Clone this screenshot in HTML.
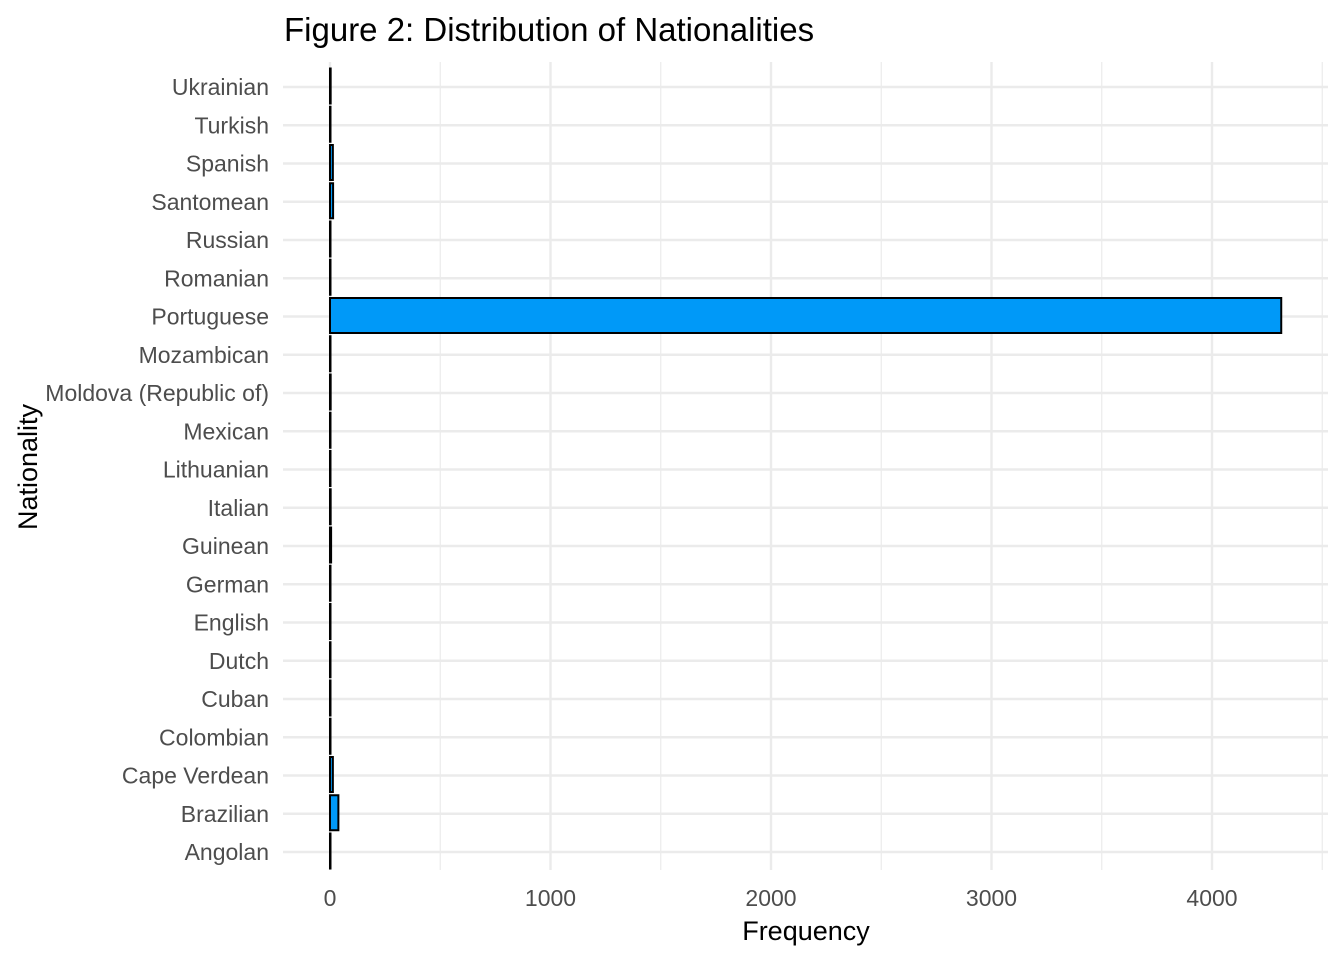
<!DOCTYPE html>
<html><head><meta charset="utf-8"><style>
body{margin:0;background:#fff;}
svg text{font-family:"Liberation Sans",Arial,sans-serif;}
</style></head><body>
<svg id="chart" width="1344" height="960" xmlns="http://www.w3.org/2000/svg">
<text x="284" y="41" font-size="33" fill="#000">Figure 2: Distribution of Nationalities</text>
<g id="grid"></g>
<g id="bars"></g>
<g id="ylabels"></g>
<g id="xlabels"></g>
<text x="806" y="940" font-size="27" text-anchor="middle" fill="#000">Frequency</text>
<text transform="translate(37,467) rotate(-90)" font-size="27" text-anchor="middle" fill="#000">Nationality</text>
</svg>
<script>
const categories=["Angolan","Brazilian","Cape Verdean","Colombian","Cuban","Dutch","English","German","Guinean","Italian","Lithuanian","Mexican","Moldova (Republic of)","Mozambican","Portuguese","Romanian","Russian","Santomean","Spanish","Turkish","Ukrainian"];
const counts=[2,38,13,1,1,1,1,2,5,3,1,2,3,2,4314,2,2,14,13,1,3];
const xTicks=[0,1000,2000,3000,4000];
const xMinor=[500,1500,2500,3500,4500];
const NS="http://www.w3.org/2000/svg";
const x=v=>330+v*(1212-330)/4000;
const y=i=>852-i*(852-87)/(categories.length-1);
const bh=35;
const L=283,R=1328,T=62,B=870;
const grid=document.getElementById('grid'),bars=document.getElementById('bars'),yl=document.getElementById('ylabels'),xl=document.getElementById('xlabels');
function mk(tag,attrs,parent){const e=document.createElementNS(NS,tag);for(const k in attrs)e.setAttribute(k,attrs[k]);parent.appendChild(e);return e;}
xMinor.forEach(v=>{const l=mk('line',{x1:x(v),x2:x(v),y1:T,y2:B,stroke:'#ebebeb','stroke-width':1.2},grid);

});
xTicks.forEach(v=>{const l=mk('line',{x1:x(v),x2:x(v),y1:T,y2:B,stroke:'#ebebeb','stroke-width':2.4},grid);


const t=mk('text',{x:x(v),y:906,'font-size':23,'text-anchor':'middle',fill:'#4d4d4d'},xl);t.textContent=v;

});
categories.forEach((c,i)=>{const l=mk('line',{x1:L,x2:R,y1:y(i),y2:y(i),stroke:'#ebebeb','stroke-width':2.4},grid);


const t=mk('text',{x:269,y:y(i)+8,'font-size':23,'text-anchor':'end',fill:'#4d4d4d'},yl);t.textContent=c;


const w=Math.max(x(counts[i])-x(0),0.5);
const r=mk('rect',{x:x(0),y:y(i)-bh/2-1,width:w,height:bh,fill:'#0099f8',stroke:'#000','stroke-width':2},bars);

});
</script>
</body></html>
